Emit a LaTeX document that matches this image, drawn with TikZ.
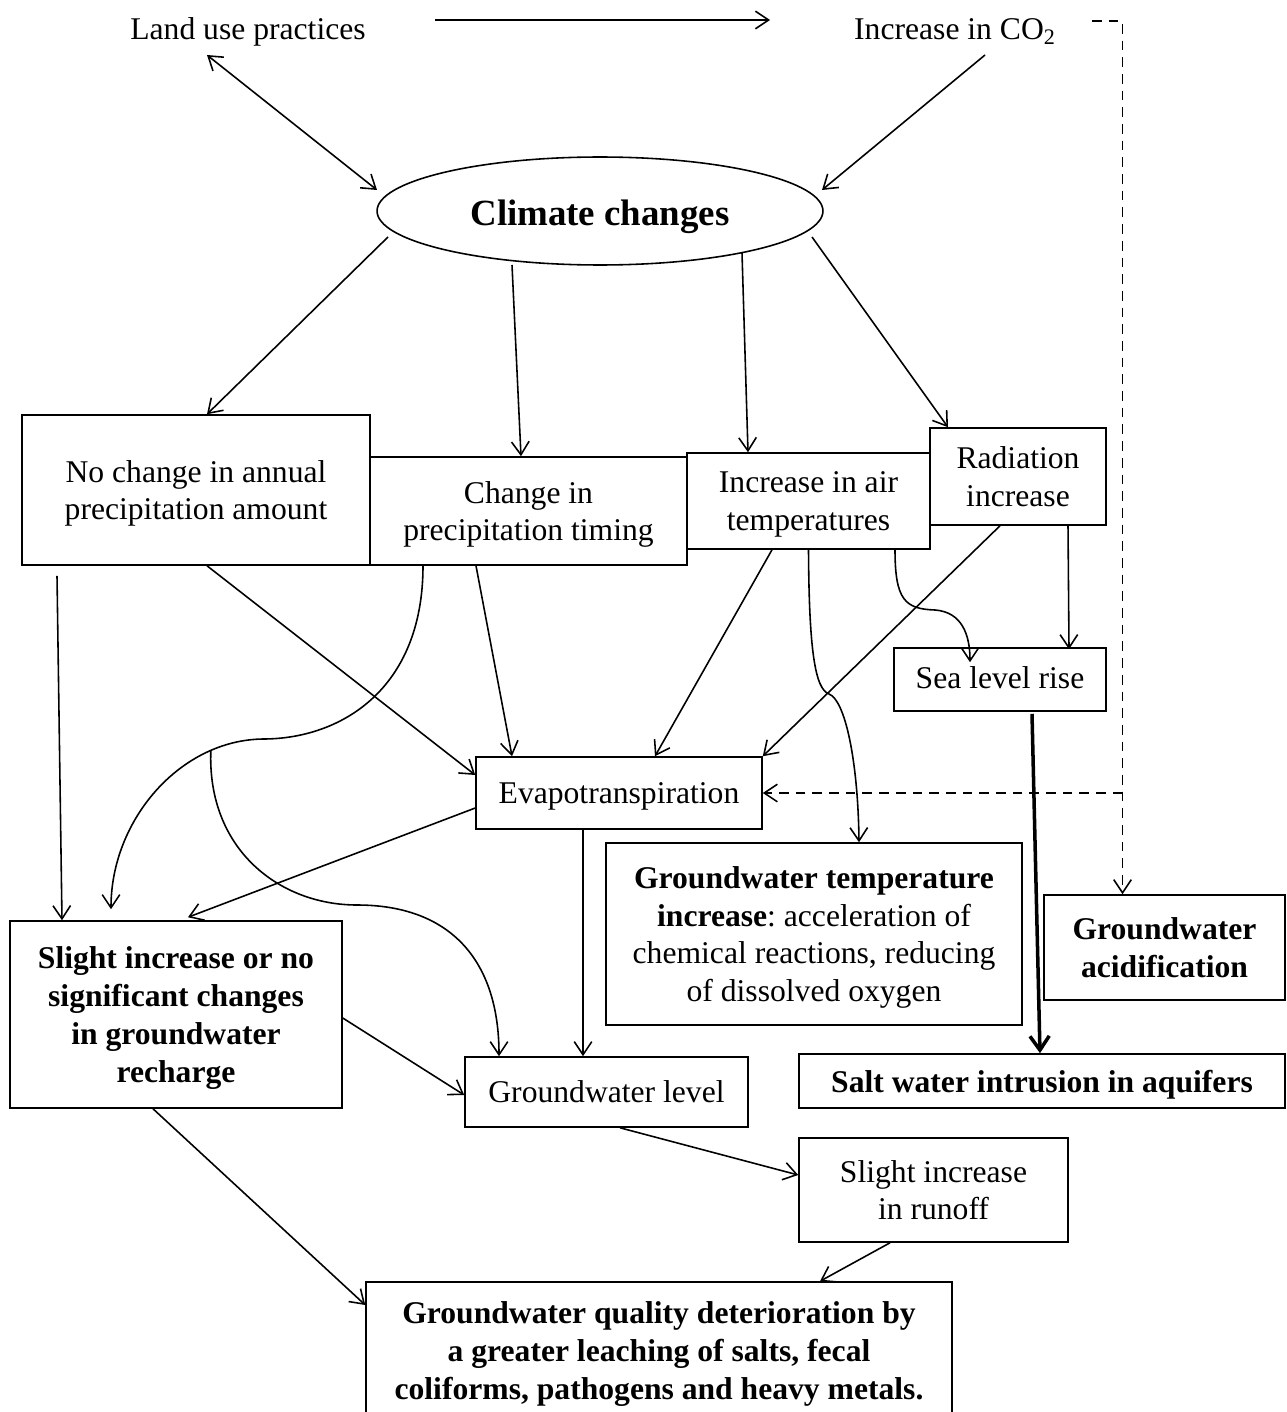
\documentclass[tikz,border=0pt]{standalone}
\usepackage{fontspec}
\setmainfont{Liberation Serif}
\usetikzlibrary{arrows.meta,shapes.geometric,calc}
\newcommand{\taille}{\fontsize{18}{21.5}\selectfont}

\begin{document}
\begin{tikzpicture}[x=0.02cm, y=-0.02cm, line width=0.9pt, >={Straight Barb[length=7.5pt,width=10pt]},
  boite/.style={draw, align=center, inner sep=0pt, font=\taille, text depth=#1},
  boite/.default=0pt,
  gras/.style={font=\taille\bfseries},
  tiret/.style={dash pattern=on 5.5pt off 4pt}]
\useasboundingbox (0,0) rectangle (1287,1412);
% haut
\node[anchor=base, font=\taille] (land) at (248,40) {Land use practices};
\node[anchor=base, font=\taille] (co2) at (955,40) {Increase in CO\textsubscript{2}};
\node[ellipse, draw, minimum width=8.92cm, minimum height=2.16cm, inner sep=0pt, text height=21pt,
  font=\fontsize{21}{25}\selectfont\bfseries] (climate) at (600,211) {Climate changes};
% boites
\node[boite=0pt, minimum width=6.96cm, minimum height=3cm] (nochange) at (196,490) {No change in annual\\precipitation amount};
\node[boite=-1.2pt, minimum width=6.34cm, minimum height=2.16cm] (timing) at (528.5,511) {Change in\\precipitation timing};
\node[boite=-0.6pt, minimum width=4.86cm, minimum height=1.92cm] (airtemp) at (808.5,501) {Increase in air\\temperatures};
\node[boite=-1.5pt, minimum width=3.52cm, minimum height=1.94cm] (radiation) at (1018,476.5) {Radiation\\increase};
\node[boite=2.3pt, minimum width=4.24cm, minimum height=1.26cm] (sealevel) at (1000,679.5) {Sea level rise};
\node[boite=-1.8pt, minimum width=5.72cm, minimum height=1.44cm] (evapo) at (619,793) {Evapotranspiration};
\node[boite=-1.8pt, minimum width=8.32cm, minimum height=3.64cm] (gwtemp) at (814,934)
  {\textbf{Groundwater temperature}\\\textbf{increase}:\ acceleration of\\chemical reactions, reducing\\of dissolved oxygen};
\node[boite=-2.3pt, gras, minimum width=4.82cm, minimum height=2.1cm] (acid) at (1164.5,947.5) {Groundwater\\acidification};
\node[boite=-4pt, gras, minimum width=6.64cm, minimum height=3.74cm] (recharge) at (176,1014.5)
  {Slight increase or no\\significant changes\\in groundwater\\recharge};
\node[boite=-3.4pt, minimum width=5.66cm, minimum height=1.4cm] (gwlevel) at (606.5,1092) {Groundwater level};
\node[boite=-4pt, gras, minimum width=9.72cm, minimum height=1.08cm] (salt) at (1042,1081) {Salt water intrusion in aquifers};
\node[boite=-2.3pt, minimum width=5.38cm, minimum height=2.08cm] (runoff) at (933.5,1190) {Slight increase\\in runoff};
\node[boite=0.5pt, gras, minimum width=11.72cm, minimum height=2.76cm] (quality) at (659,1351)
  {Groundwater quality deterioration by\\a greater leaching of salts, fecal\\coliforms, pathogens and heavy metals.};
% fleches du haut
\draw[->] ($(land.base)+(187,-20)$) -- ($(co2.base)+(-185,-20)$);
\draw[<->] ($(land.base)+(-41,15)$) -- ($(climate.center)+(-223,-21)$);
\draw[->] ($(co2.base)+(30,15)$) -- ($(climate.center)+(222,-21)$);
% depuis climate
\draw[->] ($(climate.center)+(-212,26)$) -- ($(nochange.north)+(11,0)$);
\draw[->] ($(climate.center)+(-88,54)$) -- ($(timing.north)+(-7.5,0)$);
\draw[->] ($(climate.center)+(142,42)$) -- ($(airtemp.north)+(-60.5,0)$);
\draw[->] ($(climate.center)+(212,26)$) -- ($(radiation.north)+(-70,0)$);
% precipitations
\draw[->] ($(nochange.south)+(-139,10)$) -- ($(recharge.north)+(-114,0)$);
\draw[->] ($(nochange.south)+(11,0)$) -- ($(evapo.west)+(0,-18)$);
\draw[->] ($(timing.south)+(-52.5,0)$) -- ($(evapo.north)+(-107,0)$);
\draw[->] ($(timing.south)+(-105.5,0)$) .. controls (423,690) and (340,739) .. (263,739)
  .. controls (180,740) and (111,820) .. coordinate[pos=0.22] (branche) ($(recharge.north)+(-65,-11)$);
\draw[->] (branche) .. controls (207,850) and (280,905) .. (357,905)
  .. controls (450,905) and (499,960) .. ($(gwlevel.north)+(-107.5,0)$);
% temperature et radiation
\draw[->] ($(airtemp.south)+(-36.5,0)$) -- ($(evapo.north)+(36,0)$);
\draw[->] ($(radiation.south)+(-18,0)$) -- (evapo.north east);
\draw[->] (airtemp.south) .. controls (809,650) and (815,689) .. (829,694)
  .. controls (845,700) and (858,760) .. ($(gwtemp.north)+(45,0)$);
\draw[->] ($(airtemp.south)+(86.5,0)$) .. controls (895,600) and (905,609) .. (935,610)
  .. controls (962,612) and (970,635) .. ($(sealevel.north)+(-30,15)$);
\draw[->] ($(radiation.south)+(50,0)$) -- ($(sealevel.north)+(69,2)$);
\draw[line width=2pt, -{Straight Barb[length=8pt,width=11pt]}] ($(sealevel.south)+(32,2)$) -- ($(salt.north)+(-2,0)$);
% co2 en tirets
\coordinate (dtop) at ($(acid.north)+(-42,0)$);
\draw[tiret, ->] ($(co2.base)+(137,-19)$) -| (dtop);
\draw[tiret, ->] (dtop |- evapo.east) -- (evapo.east);
% vers le bas
\draw[->] ($(evapo.west)+(0,15)$) -- ($(recharge.north)+(12,-3)$);
\draw[->] ($(evapo.south)+(-36,0)$) -- ($(gwlevel.north)+(-23.5,0)$);
\draw[->] ($(recharge.east)+(0,3.5)$) -- ($(gwlevel.west)+(0,3)$);
\draw[->] ($(gwlevel.south)+(13.5,0)$) -- ($(runoff.west)+(0,-15)$);
\draw[->] ($(runoff.south)+(-43.5,0)$) -- ($(quality.north)+(161,0)$);
\draw[->] ($(recharge.south)+(-23,0)$) -- ($(quality.west)+(0,-46)$);
\end{tikzpicture}
\end{document}
